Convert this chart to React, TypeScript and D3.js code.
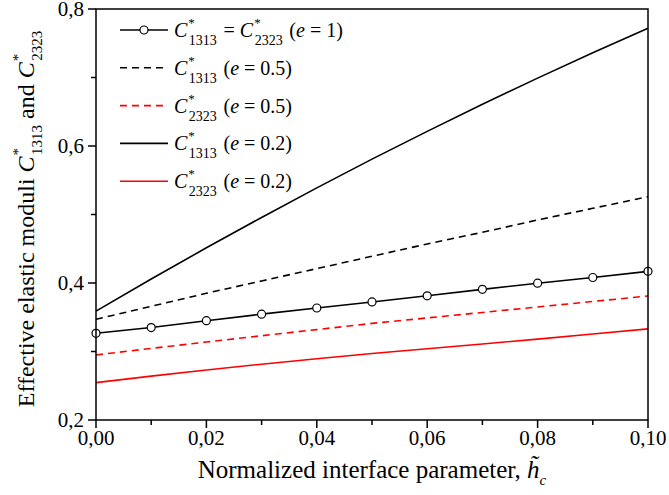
import React from "react";
import * as d3 from "d3";

const hValues = [0, 0.01, 0.02, 0.03, 0.04, 0.05, 0.06, 0.07, 0.08, 0.09, 0.1];
const cEqualE1 = [0.3266, 0.335, 0.345, 0.3545, 0.3635, 0.3723, 0.3813, 0.3907, 0.3997, 0.408, 0.417];
const c1313E05 = [0.347, 0.366, 0.385, 0.403, 0.421, 0.439, 0.457, 0.474, 0.492, 0.509, 0.526];
const c2323E05 = [0.295, 0.3045, 0.3138, 0.323, 0.332, 0.341, 0.349, 0.357, 0.365, 0.373, 0.381];
const c1313E02 = [0.359, 0.4058, 0.4514, 0.4957, 0.5389, 0.5808, 0.6214, 0.6609, 0.6991, 0.7362, 0.772];
const c2323E02 = [0.2545, 0.264, 0.273, 0.2815, 0.2895, 0.297, 0.304, 0.311, 0.318, 0.3255, 0.333];

const xMajorTicks = [0, 0.02, 0.04, 0.06, 0.08, 0.1];
const xMinorTicks = [0.01, 0.03, 0.05, 0.07, 0.09];
const yMajorTicks = [0.2, 0.4, 0.6, 0.8];
const yMinorTicks = [0.3, 0.5, 0.7];

const legendItems = [
  { sub1: "1313", sub2: "2323", tail: "1", color: "#000", dash: null, marker: true },
  { sub1: "1313", sub2: null, tail: "0.5", color: "#000", dash: "7,5", marker: false },
  { sub1: "2323", sub2: null, tail: "0.5", color: "#ff0000", dash: "7,5", marker: false },
  { sub1: "1313", sub2: null, tail: "0.2", color: "#000", dash: null, marker: false },
  { sub1: "2323", sub2: null, tail: "0.2", color: "#ff0000", dash: null, marker: false },
];

const W = 669;
const H = 495;
const L = 96, R = 648, T = 9, B = 420;
const FONT = "'Liberation Serif', 'Times New Roman', serif";

export default function App() {
  const x = d3.scaleLinear().domain([0, 0.1]).range([L, R]);
  const y = d3.scaleLinear().domain([0.2, 0.8]).range([B, T]);
  const line = (vals: number[]) =>
    d3.line<number>().x((_, i) => x(hValues[i])).y((v) => y(v))(vals) || "";

  const series = [
    { vals: c2323E02, color: "#ff0000", dash: null },
    { vals: c2323E05, color: "#ff0000", dash: "7,5" },
    { vals: c1313E05, color: "#000", dash: "7,5" },
    { vals: c1313E02, color: "#000", dash: null },
    { vals: cEqualE1, color: "#000", dash: null },
  ];

  const Cstar = (sub: string, key: string) => (
    <React.Fragment key={key}>
      <tspan fontStyle="italic">C</tspan>
      <tspan fontSize={13} dy={-10} dx={1}>*</tspan>
      <tspan fontSize={14} dx={-6} dy={18}>{sub}</tspan>
      <tspan dy={-8}>{"\u200A"}</tspan>
    </React.Fragment>
  );

  return (
    <svg width={W} height={H} style={{ position: "absolute", left: 0, top: 0 }} fontFamily={FONT}>
      <rect x={0} y={0} width={W} height={H} fill="#fff" />
      {series.map((s, i) => (
        <path key={i} d={line(s.vals)} fill="none" stroke={s.color} strokeWidth={1.6}
          strokeDasharray={s.dash || undefined} />
      ))}
      {cEqualE1.map((v, i) => (
        <circle key={i} cx={x(hValues[i])} cy={y(v)} r={4} fill="#fff" stroke="#000" strokeWidth={1.2} />
      ))}
      <rect x={L} y={T} width={R - L} height={B - T} fill="none" stroke="#000" strokeWidth={1.5} />
      {xMajorTicks.map((t) => (
        <g key={"xm" + t}>
          <line x1={x(t)} x2={x(t)} y1={B} y2={B + 8} stroke="#000" strokeWidth={1.5} />
          <text x={x(t)} y={445} fontSize={21} textAnchor="middle">{t.toFixed(2).replace(".", ",")}</text>
        </g>
      ))}
      {xMinorTicks.map((t) => (
        <line key={"xn" + t} x1={x(t)} x2={x(t)} y1={B} y2={B + 5} stroke="#000" strokeWidth={1.5} />
      ))}
      {yMajorTicks.map((t) => (
        <g key={"ym" + t}>
          <line x1={L - 8} x2={L} y1={y(t)} y2={y(t)} stroke="#000" strokeWidth={1.5} />
          <text x={84} y={y(t) + 7} fontSize={21} textAnchor="end">{t.toFixed(1).replace(".", ",")}</text>
        </g>
      ))}
      {yMinorTicks.map((t) => (
        <line key={"yn" + t} x1={L - 5} x2={L} y1={y(t)} y2={y(t)} stroke="#000" strokeWidth={1.5} />
      ))}
      <text x={372} y={478} fontSize={25} textAnchor="middle">
        Normalized interface parameter,{" "}
        <tspan fontStyle="italic">h&#771;</tspan>
        <tspan fontSize={15} fontStyle="italic" dy={7}>c</tspan>
      </text>
      <text transform={`translate(34,219) rotate(-90)`} fontSize={24} textAnchor="middle">
        Effective elastic moduli{" "}
        <tspan fontStyle="italic">C</tspan>
        <tspan fontSize={15} dy={-11} dx={1}>*</tspan>
        <tspan fontSize={15} dx={-7} dy={19}>1313</tspan>
        <tspan dy={-8}> and </tspan>
        <tspan fontStyle="italic">C</tspan>
        <tspan fontSize={15} dy={-11} dx={1}>*</tspan>
        <tspan fontSize={15} dx={-7} dy={19}>2323</tspan>
      </text>
      {legendItems.map((it, i) => {
        const cy = 30 + i * 37.8;
        return (
          <g key={"lg" + i}>
            <line x1={120} x2={168} y1={cy} y2={cy} stroke={it.color} strokeWidth={1.6}
              strokeDasharray={it.dash || undefined} />
            {it.marker && <circle cx={144} cy={cy} r={4} fill="#fff" stroke="#000" strokeWidth={1.2} />}
            <text x={174} y={cy + 7} fontSize={20}>
              {Cstar(it.sub1, "a")}
              {it.sub2 && <tspan>{" = "}</tspan>}
              {it.sub2 && Cstar(it.sub2, "b")}
              <tspan>{" ("}</tspan>
              <tspan fontStyle="italic">e</tspan>
              <tspan>{" = " + it.tail + ")"}</tspan>
            </text>
          </g>
        );
      })}
    </svg>
  );
}
